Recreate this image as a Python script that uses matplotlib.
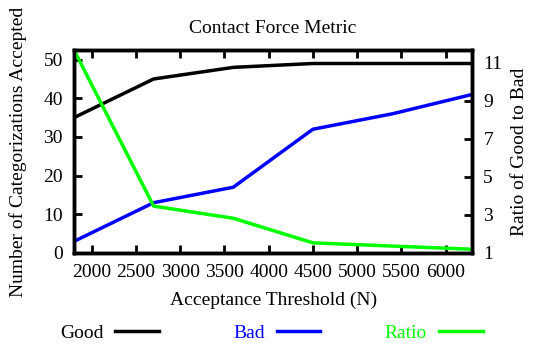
import matplotlib
matplotlib.use("Agg")
import matplotlib.pyplot as plt
from matplotlib.lines import Line2D

threshold = [1800, 2700, 3600, 4500, 5400, 6300]
good = [35, 45, 48, 49, 49, 49]
bad = [3, 13, 17, 32, 36, 41]
ratio = [g / b for g, b in zip(good, bad)]

x_ticks = list(range(2000, 6001, 500))
left_ticks = [0, 10, 20, 30, 40, 50]
right_ticks = [1, 3, 5, 7, 9, 11]

labels = ["Good", "Bad", "Ratio"]
colors = ["black", "#0000ff", "#00ff00"]


def main():
    plt.rcParams["font.family"] = ["Liberation Serif", "DejaVu Serif"]
    plt.rcParams["font.size"] = 14

    fig = plt.figure(figsize=(5.44, 3.47), dpi=100)
    ax = fig.add_axes([0.136, 0.271, 0.732, 0.585])
    ax2 = ax.twinx()

    ax.plot(threshold, good, color=colors[0], lw=2.5)
    ax.plot(threshold, bad, color=colors[1], lw=2.5)
    ax2.plot(threshold, ratio, color=colors[2], lw=2.5)

    ax.set_xlim(1800, 6300)
    ax.set_ylim(0, 52.5)
    ax2.set_ylim(1, max(ratio))
    ax.set_xticks(x_ticks)
    ax.set_yticks(left_ticks)
    ax2.set_yticks(right_ticks)

    ax.tick_params(axis="x", direction="in", top=True, length=6, width=2, pad=8)
    ax.tick_params(axis="y", direction="in", length=6, width=2, pad=8)
    ax2.tick_params(axis="y", direction="in", length=6, width=2, pad=8)
    for a in (ax, ax2):
        for s in a.spines.values():
            s.set_linewidth(2.5)

    ax.set_title("Contact Force Metric", fontsize=14, pad=12)
    ax.set_xlabel("Acceptance Threshold (N)", labelpad=8)
    ax.set_ylabel("Number of Categorizations Accepted", labelpad=12)
    ax2.set_ylabel("Ratio of Good to Bad", labelpad=6)

    # gnuplot style key: label then sample line
    text_right = [0.19, 0.487, 0.785]
    for lab, c, xr in zip(labels, colors, text_right):
        fig.text(xr, 0.04, lab, color=c, ha="right", va="center")
        fig.add_artist(Line2D([xr + 0.022, xr + 0.102], [0.045, 0.045],
                              color=c, lw=2.5, transform=fig.transFigure))

    fig.savefig("out.png", dpi=100)


if __name__ == "__main__":
    main()
